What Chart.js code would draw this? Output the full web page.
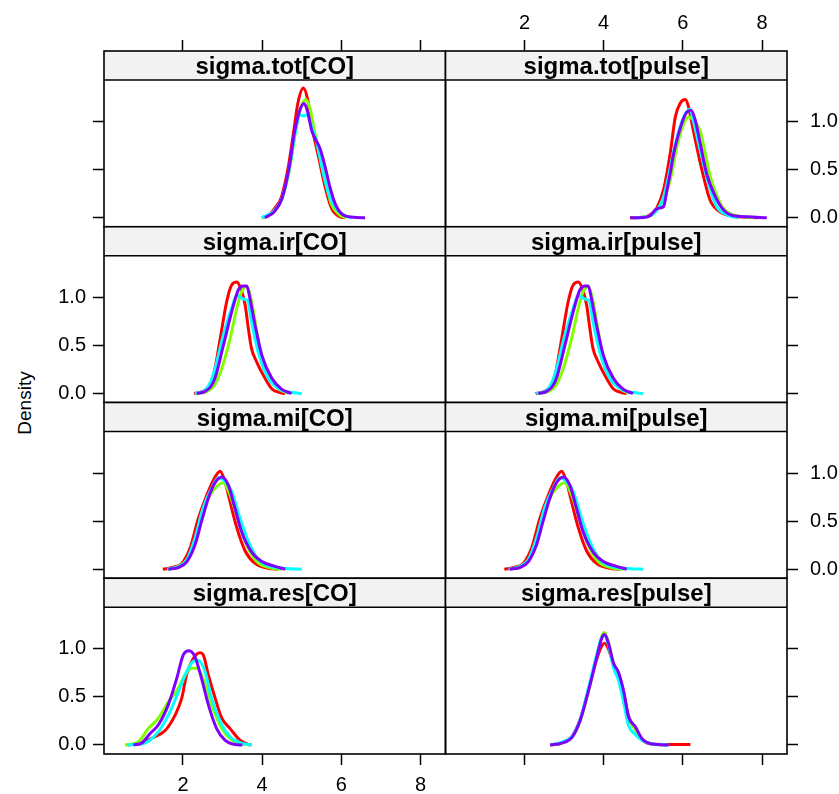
<!DOCTYPE html>
<html>
<head>
<meta charset="utf-8">
<title>Chain densities</title>
<script src="https://cdn.jsdelivr.net/npm/chart.js@4.4.1/dist/chart.umd.min.js"></script>
<style>
  html, body { margin: 0; background: #fff; overflow: hidden; }
  #wrap { position: relative; width: 839px; height: 794px; }
  #wrap canvas { position: absolute; left: 0; top: 0; }
  #ylab {
    position: absolute; left: 25px; top: 403px;
    transform: translate(-50%, -50%) rotate(-90deg);
    font: 19px "Liberation Sans", Arial, sans-serif; white-space: nowrap;
  }
</style>
</head>
<body>
<div id="wrap"><div id="ylab">Density</div></div>
<script>
const params = ['sigma.tot[CO]', 'sigma.tot[pulse]', 'sigma.ir[CO]', 'sigma.ir[pulse]',
                'sigma.mi[CO]', 'sigma.mi[pulse]', 'sigma.res[CO]', 'sigma.res[pulse]'];
const xTicks = [2, 4, 6, 8];
const yTicks = [0, 0.5, 1];

// kernel density per chain (1..4), [value, density]
const totCO = [
  [[3.99,0],[4.15,0.02],[4.32,0.10],[4.49,0.22],[4.66,0.53],[4.79,0.88],[4.90,1.19],[5.04,1.35],[5.15,1.23],[5.29,0.88],[5.42,0.64],[5.59,0.32],[5.75,0.10],[5.96,0.01],[6.10,0]],
  [[4.00,0],[4.30,0.07],[4.50,0.20],[4.70,0.52],[4.85,0.92],[4.98,1.15],[5.10,1.23],[5.20,1.15],[5.30,0.95],[5.45,0.65],[5.60,0.38],[5.75,0.14],[5.95,0.03],[6.10,0]],
  [[3.99,0],[4.30,0.07],[4.50,0.20],[4.68,0.50],[4.82,0.85],[4.95,1.07],[5.05,1.06],[5.13,1.07],[5.25,0.95],[5.38,0.78],[5.55,0.45],[5.70,0.22],[5.90,0.08],[6.10,0.02],[6.26,0]],
  [[4.07,0],[4.30,0.06],[4.50,0.20],[4.68,0.52],[4.82,0.90],[4.95,1.12],[5.06,1.19],[5.15,1.10],[5.25,0.91],[5.33,0.83],[5.46,0.72],[5.59,0.53],[5.71,0.32],[5.84,0.15],[6.01,0.04],[6.30,0.005],[6.60,0]]
];
const totPulse = [
  [[4.67,0],[5.00,0.005],[5.17,0.03],[5.34,0.10],[5.51,0.29],[5.68,0.67],[5.81,1.05],[5.93,1.19],[6.06,1.23],[6.14,1.16],[6.23,0.98],[6.35,0.74],[6.52,0.43],[6.69,0.18],[6.94,0.06],[7.20,0.02],[7.60,0.005],[7.90,0]],
  [[4.70,0],[5.10,0.01],[5.30,0.06],[5.50,0.18],[5.68,0.39],[5.85,0.74],[6.02,0.98],[6.15,1.05],[6.30,1.00],[6.44,0.90],[6.55,0.70],[6.69,0.43],[6.85,0.24],[7.00,0.11],[7.20,0.04],[7.50,0.01],[7.80,0]],
  [[4.75,0],[5.10,0.01],[5.35,0.08],[5.50,0.20],[5.60,0.36],[5.81,0.77],[6.02,1.05],[6.18,1.13],[6.27,1.00],[6.38,0.80],[6.50,0.60],[6.60,0.43],[6.75,0.22],[6.86,0.11],[7.11,0.03],[7.40,0]],
  [[4.67,0],[5.00,0.003],[5.17,0.02],[5.30,0.08],[5.40,0.10],[5.51,0.115],[5.60,0.29],[5.68,0.46],[5.76,0.65],[5.97,0.98],[6.10,1.10],[6.21,1.12],[6.31,1.02],[6.44,0.77],[6.60,0.46],[6.82,0.22],[7.03,0.08],[7.28,0.02],[7.62,0.01],[8.12,0]]
];
// ir and mi are shared by both outcomes
const sigmaIr = [
  [[2.28,0],[2.56,0.035],[2.77,0.19],[2.94,0.57],[3.10,0.95],[3.23,1.13],[3.36,1.16],[3.46,1.09],[3.57,0.92],[3.65,0.68],[3.73,0.47],[3.86,0.33],[4.03,0.19],[4.24,0.05],[4.45,0.01],[4.58,0]],
  [[2.35,0],[2.60,0.02],[2.80,0.09],[2.98,0.26],[3.19,0.57],[3.36,0.89],[3.48,1.06],[3.61,1.11],[3.70,1.02],[3.78,0.85],[3.94,0.47],[4.15,0.19],[4.41,0.05],[4.66,0]],
  [[2.30,0],[2.55,0.03],[2.70,0.12],[2.81,0.26],[3.02,0.61],[3.23,0.89],[3.36,1.02],[3.45,1.00],[3.55,0.98],[3.63,0.97],[3.73,0.75],[3.90,0.43],[4.15,0.16],[4.49,0.035],[4.75,0.01],[5.00,0]],
  [[2.35,0],[2.55,0.02],[2.70,0.07],[2.81,0.16],[3.02,0.50],[3.23,0.85],[3.40,1.08],[3.52,1.12],[3.61,1.12],[3.69,0.99],[3.82,0.71],[3.99,0.40],[4.24,0.16],[4.49,0.045],[4.74,0]]
];
const sigmaMi = [
  [[1.49,0],[1.75,0.02],[1.97,0.06],[2.18,0.22],[2.39,0.53],[2.60,0.77],[2.81,0.96],[2.94,1.02],[3.06,0.91],[3.19,0.70],[3.36,0.43],[3.57,0.19],[3.82,0.06],[4.15,0.01],[4.41,0]],
  [[1.63,0],[1.90,0.03],[2.10,0.10],[2.30,0.29],[2.47,0.57],[2.68,0.77],[2.85,0.86],[3.02,0.90],[3.19,0.77],[3.40,0.50],[3.61,0.25],[3.86,0.08],[4.24,0.01],[4.50,0]],
  [[1.60,0],[1.90,0.03],[2.10,0.10],[2.30,0.32],[2.51,0.64],[2.72,0.84],[2.89,0.95],[3.05,0.92],[3.23,0.81],[3.44,0.53],[3.65,0.29],[3.90,0.10],[4.32,0.02],[4.70,0.005],[5.00,0]],
  [[1.63,0],[1.90,0.02],[2.10,0.08],[2.30,0.25],[2.47,0.50],[2.64,0.74],[2.81,0.90],[2.98,0.96],[3.14,0.88],[3.31,0.64],[3.48,0.39],[3.73,0.18],[3.99,0.08],[4.32,0.03],[4.58,0]]
];
const resCO = [
  [[0.60,0],[0.96,0.02],[1.21,0.07],[1.55,0.15],[1.80,0.31],[1.97,0.49],[2.09,0.73],[2.26,0.90],[2.43,0.96],[2.51,0.94],[2.64,0.73],[2.81,0.49],[2.98,0.28],[3.19,0.17],[3.44,0.05],[3.65,0.005],[3.73,0]],
  [[0.535,0],[0.87,0.03],[1.12,0.17],[1.38,0.28],[1.63,0.45],[1.88,0.59],[2.05,0.73],[2.22,0.80],[2.35,0.80],[2.51,0.69],[2.72,0.42],[2.98,0.17],[3.23,0.05],[3.57,0]],
  [[0.60,0],[1.04,0.02],[1.38,0.14],[1.63,0.31],[1.88,0.55],[2.09,0.76],[2.26,0.87],[2.39,0.88],[2.56,0.76],[2.72,0.49],[2.98,0.21],[3.23,0.07],[3.48,0.02],[3.73,0]],
  [[0.75,0],[0.96,0.02],[1.17,0.12],[1.38,0.21],[1.63,0.42],[1.84,0.69],[2.01,0.94],[2.15,0.98],[2.30,0.92],[2.47,0.69],[2.64,0.42],[2.85,0.17],[3.06,0.05],[3.31,0.005],[3.50,0]]
];
const resPulse = [
  [[2.65,0],[2.94,0.02],[3.20,0.09],[3.41,0.27],[3.62,0.58],[3.83,0.90],[3.95,1.03],[4.02,1.06],[4.12,1.00],[4.25,0.84],[4.37,0.75],[4.50,0.55],[4.63,0.30],[4.80,0.18],[4.96,0.06],[5.22,0.01],[5.60,0.005],[6.19,0.005]],
  [[2.70,0],[2.94,0.02],[3.20,0.08],[3.41,0.25],[3.62,0.57],[3.83,0.93],[3.95,1.13],[4.02,1.17],[4.12,1.07],[4.25,0.84],[4.37,0.72],[4.50,0.52],[4.63,0.28],[4.80,0.16],[4.96,0.06],[5.22,0.01],[5.50,0]],
  [[2.65,0],[2.94,0.03],[3.20,0.09],[3.41,0.27],[3.62,0.60],[3.83,0.95],[3.95,1.12],[4.02,1.14],[4.12,1.04],[4.25,0.80],[4.37,0.68],[4.50,0.45],[4.63,0.20],[4.80,0.11],[4.96,0.05],[5.22,0.01],[5.64,0]],
  [[2.65,0],[2.94,0.02],[3.20,0.08],[3.41,0.26],[3.62,0.57],[3.83,0.92],[3.95,1.11],[4.02,1.15],[4.12,1.06],[4.25,0.85],[4.37,0.76],[4.50,0.57],[4.63,0.29],[4.80,0.19],[4.96,0.07],[5.22,0.01],[5.64,0]]
];

const panelData = [totCO, totPulse, sigmaIr, sigmaIr, sigmaMi, sigmaMi, resCO, resPulse];
const chainCols = ['#FF0000', '#80FF00', '#00FFFF', '#8000FF'];

// shared limits (lattice pads the data range by 7%)
const X_MIN = 0.005, X_MAX = 8.63;
const Y_LO = -0.094, Y_HI = 1.434;

const W = 839, H = 794;
const FONT = '"Liberation Sans", Arial, sans-serif';
const STRIP = 29;
const colEdges = [[104, 445.5], [445.5, 787]];
const ROW0 = 51, ROW_H = 175.75;
// axis boxes must be big enough: Chart.js clips tick labels to them
const AX_W = 52, AX_H = 40;
// y range is extended upward so the strip sits inside the chart area
const Y_TOP = Y_HI + STRIP * (Y_HI - Y_LO) / (ROW_H - STRIP);
// gap between tick end and label, per side
const labelPad = { left: 7, right: 12, top: 5, bottom: 8 };

Chart.defaults.font.family = FONT;
Chart.defaults.font.size = 20;
Chart.defaults.color = '#000';

const stripPlugin = {
  id: 'strip',
  beforeDatasetsDraw(chart, args, opts) {
    const { left, right, top } = chart.chartArea;
    const ctx = chart.ctx;
    ctx.save();
    ctx.fillStyle = '#F2F2F2';
    ctx.fillRect(left, top, right - left, STRIP);
    ctx.fillStyle = '#000';
    ctx.font = 'bold 24px ' + FONT;
    ctx.textAlign = 'center';
    ctx.textBaseline = 'alphabetic';
    ctx.fillText(opts.label, (left + right) / 2, top + STRIP / 2 + 8.5);
    ctx.restore();
  },
  afterDraw(chart) {
    const { left, right, top, bottom } = chart.chartArea;
    const ctx = chart.ctx;
    ctx.save();
    ctx.strokeStyle = '#000';
    ctx.lineWidth = 1.6;
    ctx.strokeRect(left, top, right - left, bottom - top);
    ctx.beginPath();
    ctx.moveTo(left, top + STRIP);
    ctx.lineTo(right, top + STRIP);
    ctx.stroke();
    ctx.restore();
  }
};

function axis(pos, show, labelled, vals, fmt) {
  const horiz = pos === 'top' || pos === 'bottom';
  return {
    type: 'linear',
    position: pos,
    display: show,
    min: horiz ? X_MIN : Y_LO,
    max: horiz ? X_MAX : Y_TOP,
    afterBuildTicks: s => { s.ticks = vals.map(v => ({ value: v })); },
    afterFit: s => {
      if (!show) return;
      if (horiz) s.height = AX_H; else s.width = AX_W;
    },
    border: { display: false },
    grid: { drawOnChartArea: false, drawTicks: true, tickLength: 11, tickColor: '#000', tickWidth: 1.5 },
    ticks: { display: labelled, padding: labelPad[pos], autoSkip: false, maxRotation: 0, callback: fmt }
  };
}

const wrap = document.getElementById('wrap');
params.forEach((name, i) => {
  const r = Math.floor(i / 2), c = i % 2;
  const [L, R] = colEdges[c];
  const T = ROW0 + r * ROW_H, B = T + ROW_H;
  const showX = r === 3, showX2 = r === 0, showY = c === 0, showY2 = c === 1;

  const cv = document.createElement('canvas');
  cv.width = W; cv.height = H;
  wrap.appendChild(cv);

  new Chart(cv, {
    type: 'line',
    data: {
      datasets: panelData[i].map((pts, k) => ({
        data: pts.map(p => ({ x: p[0], y: p[1] })),
        borderColor: chainCols[k],
        borderWidth: 3,
        pointRadius: 0,
        fill: false,
        cubicInterpolationMode: 'monotone',
        order: chainCols.length - k   // later chains on top
      }))
    },
    options: {
      responsive: false,
      animation: false,
      events: [],
      layout: {
        padding: {
          left: L - (showY ? AX_W : 0),
          right: W - R - (showY2 ? AX_W : 0),
          top: T - (showX2 ? AX_H : 0),
          bottom: H - B - (showX ? AX_H : 0)
        }
      },
      scales: {
        x: axis('bottom', showX, c === 0, xTicks, v => String(v)),
        x2: axis('top', showX2, c === 1, xTicks, v => String(v)),
        y: axis('left', showY, r % 2 === 1, yTicks, v => v.toFixed(1)),
        y2: axis('right', showY2, r % 2 === 0, yTicks, v => v.toFixed(1))
      },
      plugins: {
        legend: { display: false },
        tooltip: { enabled: false },
        strip: { label: name }
      }
    },
    plugins: [stripPlugin]
  });
});
</script>
</body>
</html>
